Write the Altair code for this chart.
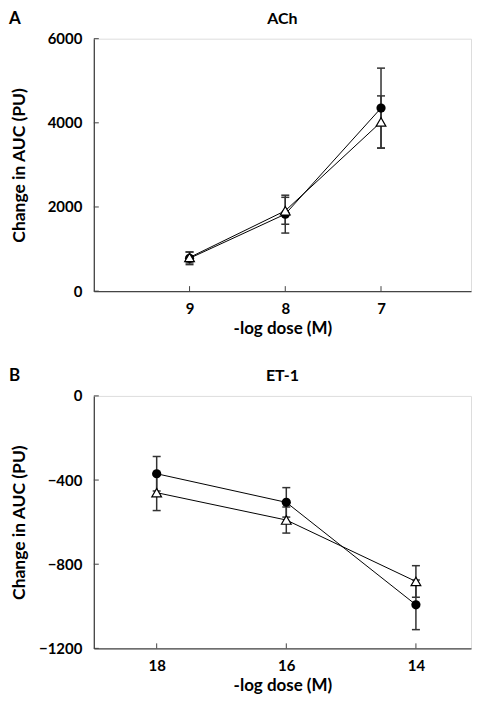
import altair as alt
import pandas as pd

# ---------------- data ----------------
a_dose = [9, 8, 7]
a_filled = [780, 1830, 4350]
a_filled_err = [150, 450, 950]
a_open = [800, 1910, 4020]
a_open_err = [130, 320, 620]

b_dose = [18, 16, 14]
b_filled = [-370, -506, -993]
b_filled_err = [82, 70, 118]
b_open = [-460, -590, -882]
b_open_err = [85, 62, 75]

a_xticks = [9, 8, 7]
a_yticks = [0, 2000, 4000, 6000]
b_xticks = [18, 16, 14]
b_yticks = [0, -400, -800, -1200]

FONT = "Lato"
AXC = "#444444"
ERRC = "#333333"


def panel(letter, title, dose, f, fe, o, oe, xdomain, ydomain, xticks, yticks,
          W, H, ytitle_pad):
    rows = []
    for d, v, e in zip(dose, f, fe):
        rows.append({"dose": d, "val": v, "lo": v - e, "hi": v + e, "series": "filled"})
    for d, v, e in zip(dose, o, oe):
        rows.append({"dose": d, "val": v, "lo": v - e, "hi": v + e, "series": "open"})
    df = pd.DataFrame(rows)

    xaxis = alt.Axis(values=xticks, title="-log dose (M)", ticks=False, tickSize=0,
                     labelPadding=10, labelFont=FONT, labelFontWeight="bold",
                     labelFontSize=15, labelColor="black", titleFont=FONT,
                     titleFontSize=17, titleFontWeight="bold", titleColor="black",
                     titlePadding=4, domainColor=AXC, domainWidth=1.3, grid=False,
                     labelFlush=False, format="d")
    yaxis = alt.Axis(values=yticks, title="Change in AUC (PU)", ticks=False, tickSize=0,
                     labelPadding=12, labelFont=FONT, labelFontWeight="bold",
                     labelFontSize=15, labelColor="black", titleFont=FONT,
                     titleFontSize=17.5, titleFontWeight="bold", titleColor="black",
                     titlePadding=ytitle_pad, domainColor=AXC, domainWidth=1.3,
                     grid=False, labelFlush=False, format="d")
    xs = alt.Scale(domain=xdomain, reverse=True, nice=False, zero=False)
    ys = alt.Scale(domain=ydomain, nice=False, zero=False)

    def X(field):
        return alt.X(f"{field}:Q", scale=xs, axis=xaxis)

    def Y(field):
        return alt.Y(f"{field}:Q", scale=ys, axis=yaxis)

    base = alt.Chart(df)
    lines = base.mark_line(color="black", strokeWidth=1).encode(
        x=X("dose"), y=Y("val"), detail="series:N")
    bars = base.mark_rule(color=ERRC, strokeWidth=1.5).encode(
        x=X("dose"), y=Y("lo"), y2="hi:Q")
    cap_lo = base.mark_point(shape="M-1,0L1,0", size=64, filled=False, color=ERRC,
                             strokeWidth=1.5, opacity=1).encode(x=X("dose"), y=Y("lo"))
    cap_hi = base.mark_point(shape="M-1,0L1,0", size=64, filled=False, color=ERRC,
                             strokeWidth=1.5, opacity=1).encode(x=X("dose"), y=Y("hi"))
    dots = base.transform_filter(alt.datum.series == "filled").mark_point(
        shape="circle", filled=True, color="black", size=85, opacity=1).encode(
        x=X("dose"), y=Y("val"))
    tris = base.transform_filter(alt.datum.series == "open").mark_point(
        shape="triangle-up", filled=True, fill="white", stroke="black",
        strokeWidth=1.2, size=95, opacity=1).encode(x=X("dose"), y=Y("val"))

    xt = alt.Chart(pd.DataFrame({"t": xticks})).mark_rule(
        color=AXC, strokeWidth=1).encode(x=X("t"), y=alt.value(H), y2=alt.value(H - 5))
    yt = alt.Chart(pd.DataFrame({"t": yticks})).mark_rule(
        color=AXC, strokeWidth=1).encode(y=Y("t"), x=alt.value(0), x2=alt.value(5))

    lab = alt.Chart(pd.DataFrame({"t": [letter]})).mark_text(
        font=FONT, fontSize=17, fontWeight="bold", align="left", baseline="middle",
        color="black").encode(text="t:N", x=alt.value(-85), y=alt.value(-20))
    ttl = alt.Chart(pd.DataFrame({"t": [title]})).mark_text(
        font=FONT, fontSize=16, fontWeight="bold", align="center", baseline="middle",
        color="black").encode(text="t:N", x=alt.value(W / 2), y=alt.value(-20))

    return alt.layer(lines, bars, cap_lo, cap_hi, dots, tris, xt, yt, lab, ttl).properties(
        width=W, height=H)


pa = panel("A", "ACh", a_dose, a_filled, a_filled_err, a_open, a_open_err,
           [6.06, 10], [0, 6000], a_xticks, a_yticks, 378, 253, 19)
pb = panel("B", "ET-1", b_dose, b_filled, b_filled_err, b_open, b_open_err,
           [13.15, 18.97], [-1200, 0], b_xticks, b_yticks, 378, 253, 10)

chart = alt.vconcat(pa, pb, spacing=29).properties(padding=0).configure_view(
    stroke=None).configure(background="white")

chart.save("out.html", embed_options={"renderer": "svg", "actions": False})
